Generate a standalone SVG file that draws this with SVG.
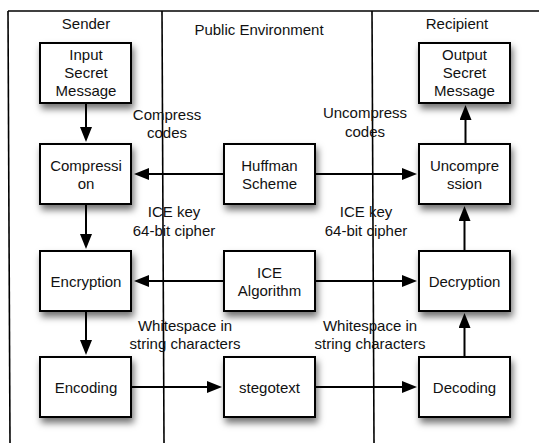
<svg xmlns="http://www.w3.org/2000/svg" width="539" height="443" viewBox="0 0 539 443">
<defs>
<filter id="sh" x="-20%" y="-20%" width="150%" height="160%">
<feDropShadow dx="2" dy="5" stdDeviation="3.5" flood-color="#000" flood-opacity="0.55"/>
</filter>
<marker id="ah" viewBox="0 0 15 12" refX="1" refY="6" markerWidth="15" markerHeight="12" markerUnits="userSpaceOnUse" orient="auto">
<path d="M0,0 L15,6 L0,12 z" fill="#000"/>
</marker>
<style>
text{font-family:"Liberation Sans",Arial,Helvetica,sans-serif;font-size:15px;fill:#111;text-anchor:middle}
.box{fill:#fff;stroke:#000;stroke-width:2;filter:url(#sh)}
.frame{stroke:#000;stroke-width:1.6;fill:none}
.conn line{stroke:#000;stroke-width:2;marker-end:url(#ah)}
</style>
</defs>
<rect width="539" height="443" fill="#fff"/>
<g id="frame">
<line class="frame" x1="8" y1="11" x2="539" y2="11"/>
<line class="frame" x1="8" y1="11" x2="10" y2="443"/>
<line class="frame" x1="162" y1="11" x2="164" y2="443"/>
<line class="frame" x1="372" y1="11" x2="374" y2="443"/>
<text x="86" y="29">Sender</text>
<text x="259" y="35">Public Environment</text>
<text x="457" y="29">Recipient</text>
</g>
<g class="conn" id="connectors">
<line x1="86" y1="103" x2="86" y2="128"/>
<line x1="86" y1="204" x2="86" y2="235"/>
<line x1="86" y1="311" x2="86" y2="341"/>
<line x1="224" y1="174" x2="148" y2="174"/>
<line x1="224" y1="281" x2="148" y2="281"/>
<line x1="315" y1="174" x2="403" y2="174"/>
<line x1="315" y1="281" x2="403" y2="281"/>
<line x1="131" y1="387" x2="208" y2="387"/>
<line x1="315" y1="387" x2="403" y2="387"/>
<line x1="464.5" y1="357" x2="464.5" y2="327"/>
<line x1="464.5" y1="251" x2="464.5" y2="220"/>
<line x1="465.5" y1="144" x2="465.5" y2="119"/>
</g>
<g id="labels">
<text x="167" y="120">Compress</text>
<text x="167" y="138">codes</text>
<text x="365" y="118">Uncompress</text>
<text x="365" y="137">codes</text>
<text x="174" y="217">ICE key</text>
<text x="174" y="236">64-bit cipher</text>
<text x="366" y="217">ICE key</text>
<text x="366" y="236">64-bit cipher</text>
<text x="185" y="331">Whitespace in</text>
<text x="185" y="349">string characters</text>
<text x="370" y="331">Whitespace in</text>
<text x="370" y="349">string characters</text>
</g>
<g id="input"><rect class="box" x="40" y="43" width="91" height="60"/><text x="86" y="59.5">Input</text><text x="86" y="77.5">Secret</text><text x="86" y="95.5">Message</text></g>
<g id="compression"><rect class="box" x="40" y="144" width="91" height="60"/><text x="86" y="170.5">Compressi</text><text x="86" y="188.5">on</text></g>
<g id="encryption"><rect class="box" x="40" y="251" width="91" height="60"/><text x="86" y="286.5">Encryption</text></g>
<g id="encoding"><rect class="box" x="40" y="357" width="91" height="60"/><text x="86" y="392.5">Encoding</text></g>
<g id="huffman"><rect class="box" x="224" y="144" width="91" height="60"/><text x="269.5" y="170.5">Huffman</text><text x="269.5" y="188.5">Scheme</text></g>
<g id="ice"><rect class="box" x="224" y="251" width="91" height="60"/><text x="269.5" y="277.5">ICE</text><text x="269.5" y="295.5">Algorithm</text></g>
<g id="stegotext"><rect class="box" x="224" y="357" width="91" height="60"/><text x="269.5" y="392.5">stegotext</text></g>
<g id="output"><rect class="box" x="419" y="43" width="91" height="60"/><text x="464.5" y="59.5">Output</text><text x="464.5" y="77.5">Secret</text><text x="464.5" y="95.5">Message</text></g>
<g id="uncompression"><rect class="box" x="419" y="144" width="91" height="60"/><text x="464.5" y="170.5">Uncompre</text><text x="464.5" y="188.5">ssion</text></g>
<g id="decryption"><rect class="box" x="419" y="251" width="91" height="60"/><text x="464.5" y="286.5">Decryption</text></g>
<g id="decoding"><rect class="box" x="419" y="357" width="91" height="60"/><text x="464.5" y="392.5">Decoding</text></g>
</svg>
